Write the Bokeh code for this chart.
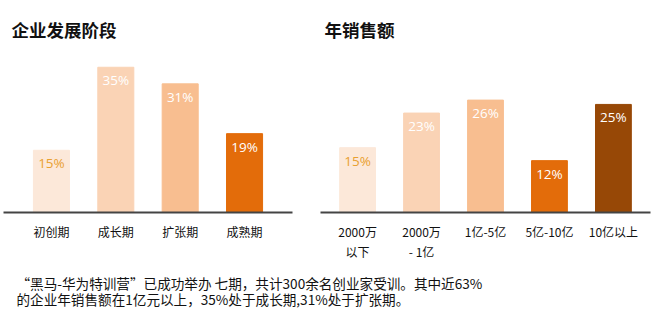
from bokeh.plotting import figure
from bokeh.models import FactorRange, Range1d, ColumnDataSource, Label
from bokeh.layouts import column, row
from bokeh.core.properties import value
from bokeh.embed import file_html
from bokeh.resources import INLINE

# ---- data ----
stage_title = "企业发展阶段"
stage_cats = ["初创期", "成长期", "扩张期", "成熟期"]
stage_vals = [15, 35, 31, 19]
stage_colors = ["#FCE8D9", "#FAD3B5", "#F8BE90", "#E36C0A"]
stage_label_colors = ["#E9A030", "white", "white", "white"]

sales_title = "年销售额"
sales_cats = ["2000万\n以下", "2000万\n- 1亿", "1亿-5亿", "5亿-10亿", "10亿以上"]
sales_vals = [15, 23, 26, 12, 25]
sales_colors = ["#FCE8D9", "#FAD3B5", "#F8BE90", "#E36C0A", "#974806"]
sales_label_colors = ["#E9A030", "white", "white", "white", "white"]

note_lines = [
    "“黑马-华为特训营”已成功举办 七期，共计300余名创业家受训。其中近63%",
    "的企业年销售额在1亿元以上，35%处于成长期,31%处于扩张期。",
]

CJK = "Noto Sans CJK SC"
H = 262


def bar_chart(title, cats, vals, colors, lcolors, width, ymax, padding, bl, br, standoff):
    src = ColumnDataSource(dict(cat=cats, val=vals, color=colors, lcolor=lcolors,
                                lab=[f"{v}%" for v in vals]))
    p = figure(width=width, height=H, output_backend="svg", toolbar_location=None,
               x_range=FactorRange(factors=cats, range_padding=padding,
                                   range_padding_units="absolute"),
               y_range=Range1d(0, ymax), title=title,
               min_border_left=bl, min_border_right=br,
               min_border_top=46, min_border_bottom=50)
    p.vbar(x="cat", top="val", width=0.56, color="color", source=src)
    p.text(x="cat", y="val", text="lab", text_color="lcolor", source=src,
           text_align="center", text_baseline="middle", y_offset=13,
           text_font=value("Open Sans"), text_font_size="13.5px")
    p.title.text_font = CJK
    p.title.text_font_size = "17.5px"
    p.title.text_font_style = "bold"
    p.title.text_color = "#111111"
    p.title.align = "left"
    p.yaxis.visible = False
    p.grid.visible = False
    p.outline_line_color = None
    ax = p.xaxis[0]
    ax.axis_line_color = "#444444"
    ax.axis_line_width = 2
    ax.major_tick_line_color = None
    ax.minor_tick_line_color = None
    ax.major_tick_out = 0
    ax.major_tick_in = 0
    ax.minor_tick_out = 0
    ax.major_label_standoff = standoff
    ax.major_label_text_font = CJK
    ax.major_label_text_font_size = "12px"
    ax.major_label_text_color = "#111111"
    # give one-line labels an empty second line so all rows share the same top
    if any("\n" in c for c in cats):
        ax.major_label_overrides = {c: c + "\n" for c in cats if "\n" not in c}
    return p


p1 = bar_chart(stage_title, stage_cats, stage_vals, stage_colors, stage_label_colors,
               320, 40, 0.245, 3, 28, 10)
p1.title.offset = 8
p2 = bar_chart(sales_title, sales_cats, sales_vals, sales_colors, sales_label_colors,
               335, 38.4, 0.08, 0, 5, 10)
p2.title.offset = 4

HB = 323 - H
p3 = figure(width=655, height=HB, output_backend="svg", toolbar_location=None,
            x_range=Range1d(0, 655), y_range=Range1d(0, HB),
            min_border=0)
p3.axis.visible = False
p3.grid.visible = False
p3.outline_line_color = None
for i, line in enumerate(note_lines):
    p3.add_layout(Label(x=16, y=HB - 20 - 16.5 * i, x_units="screen", y_units="screen",
                        text=line, text_font=CJK, text_font_size="13.6px",
                        text_color="#111111", text_baseline="middle"))

layout = column(row(p1, p2), p3)
open("out.html", "w").write(file_html(layout, INLINE))
